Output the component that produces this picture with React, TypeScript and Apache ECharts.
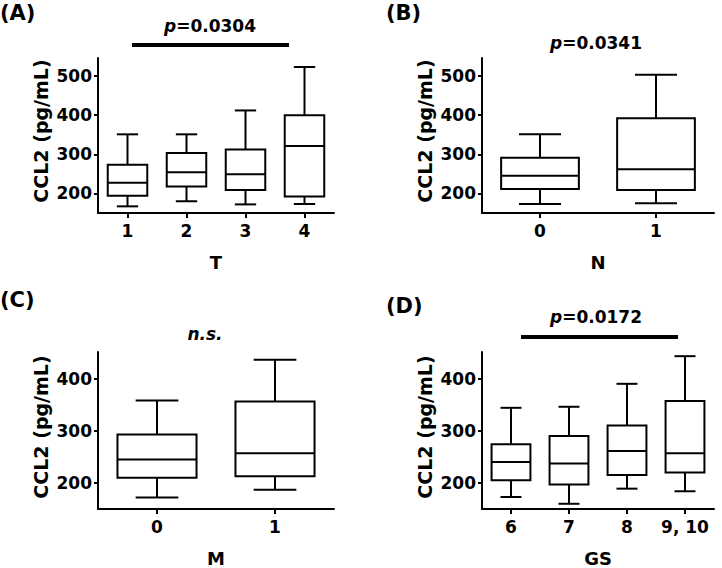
import React, { useEffect, useRef } from "react";
import * as echarts from "echarts";

const catsT = ["1", "2", "3", "4"];
const boxT = [
  [167, 194, 227, 273, 351],
  [180, 218, 254, 303, 351],
  [172, 209, 249, 312, 412],
  [173, 192, 321, 400, 523],
];
const catsN = ["0", "1"];
const boxN = [
  [173, 211, 245, 291, 351],
  [175, 209, 262, 392, 503],
];
const catsM = ["0", "1"];
const boxM = [
  [172, 210, 245, 293, 358],
  [187, 213, 257, 356, 436],
];
const catsGS = ["6", "7", "8", "9, 10"];
const boxGS = [
  [173, 205, 240, 274, 344],
  [160, 197, 237, 290, 346],
  [189, 215, 261, 310, 390],
  [184, 220, 257, 357, 443],
];
const ticksTop = [200, 300, 400, 500];
const ticksBottom = [200, 300, 400];

const FONT = "DejaVu Sans";

export default function App() {
  const ref = useRef<HTMLDivElement>(null);
  useEffect(() => {
    if (!ref.current) return;
    const chart = echarts.init(ref.current, null, { renderer: "svg" });

    const grids = [
      { left: 98, top: 58, width: 236, height: 155 },
      { left: 482, top: 58, width: 232, height: 155 },
      { left: 98, top: 352, width: 236, height: 158 },
      { left: 482, top: 352, width: 232, height: 158 },
    ];
    const cats = [catsT, catsN, catsM, catsGS];
    const names = ["T", "N", "M", "GS"];
    const boxes = [boxT, boxN, boxM, boxGS];
    const ranges = [
      [150, 546],
      [150, 546],
      [150, 451],
      [150, 451],
    ];
    const ticks = [ticksTop, ticksTop, ticksBottom, ticksBottom];

    const lineStyle = { color: "#000", width: 2 };

    const renderItem = (params: any, api: any) => {
      const x = api.value(0);
      const pLow = api.coord([x, api.value(1)]);
      const pQ1 = api.coord([x, api.value(2)]);
      const pMed = api.coord([x, api.value(3)]);
      const pQ3 = api.coord([x, api.value(4)]);
      const pHigh = api.coord([x, api.value(5)]);
      const bw = api.size([1, 0])[0] * 0.67;
      const cw = bw * 0.54;
      const cx = pLow[0];
      const st = { stroke: "#000", lineWidth: 2, fill: "none" };
      return {
        type: "group",
        children: [
          { type: "line", shape: { x1: cx, y1: pQ3[1], x2: cx, y2: pHigh[1] }, style: st },
          { type: "line", shape: { x1: cx - cw / 2, y1: pHigh[1], x2: cx + cw / 2, y2: pHigh[1] }, style: st },
          { type: "line", shape: { x1: cx, y1: pQ1[1], x2: cx, y2: pLow[1] }, style: st },
          { type: "line", shape: { x1: cx - cw / 2, y1: pLow[1], x2: cx + cw / 2, y2: pLow[1] }, style: st },
          {
            type: "rect",
            shape: { x: cx - bw / 2, y: pQ3[1], width: bw, height: pQ1[1] - pQ3[1] },
            style: { stroke: "#000", lineWidth: 2, fill: "#fff" },
          },
          { type: "line", shape: { x1: cx - bw / 2, y1: pMed[1], x2: cx + bw / 2, y2: pMed[1] }, style: st },
        ],
      };
    };

    const pText = (val: string, x: number, y: number) => ({
      type: "text",
      x,
      y,
      style: {
        text: "{i|p}=" + val,
        rich: { i: { fontStyle: "italic", fontWeight: "bold", fontFamily: FONT, fontSize: 17, fill: "#000" } },
        fontFamily: FONT,
        fontWeight: "bold",
        fontSize: 17,
        fill: "#000",
        align: "center",
        verticalAlign: "middle",
      },
    });
    const label = (t: string, x: number, y: number) => ({
      type: "text",
      x,
      y,
      style: {
        text: t,
        fontFamily: FONT,
        fontWeight: "bold",
        fontSize: 21,
        fill: "#000",
        align: "left",
        verticalAlign: "middle",
      },
    });
    const yName = (x: number, y: number) => ({
      type: "text",
      x,
      y,
      rotation: Math.PI / 2,
      style: {
        text: "CCL2 (pg/mL)",
        fontFamily: FONT,
        fontWeight: "bold",
        fontSize: 19,
        fill: "#000",
        align: "center",
        verticalAlign: "middle",
      },
    });

    chart.setOption({
      animation: false,
      backgroundColor: "#fff",
      grid: grids,
      xAxis: grids.map((_, i) => ({
        type: "category",
        gridIndex: i,
        data: cats[i],
        boundaryGap: true,
        name: names[i],
        nameLocation: "middle",
        nameGap: 40,
        nameTextStyle: { fontFamily: FONT, fontWeight: "bold", fontSize: 18, color: "#000" },
        axisLine: { lineStyle },
        axisTick: { show: true, alignWithLabel: true, length: 5, lineStyle, interval: 0 },
        axisLabel: { fontFamily: FONT, fontWeight: "bold", fontSize: 17, color: "#000", margin: 9, interval: 0 },
        splitLine: { show: false },
      })),
      yAxis: grids.map((_, i) => ({
        type: "value",
        gridIndex: i,
        min: ranges[i][0],
        max: ranges[i][1],
        axisLine: { show: true, lineStyle },
        axisTick: { show: true, length: 4, lineStyle, customValues: ticks[i] },
        axisLabel: {
          fontFamily: FONT,
          fontWeight: "bold",
          fontSize: 17,
          color: "#000",
          margin: 6,
          customValues: ticks[i],
        },
        splitLine: { show: false },
      })),
      series: boxes.map((b, i) => ({
        type: "custom",
        xAxisIndex: i,
        yAxisIndex: i,
        renderItem,
        encode: { x: 0, y: [1, 2, 3, 4, 5] },
        data: b.map((v, j) => [j, ...v]),
      })),
      graphic: [
        label("(A)", 0, 13),
        label("(B)", 386, 13),
        label("(C)", 0, 300),
        label("(D)", 386, 306),
        yName(41, 131),
        yName(425, 131),
        yName(41, 427),
        yName(425, 427),
        pText("0.0304", 210, 26),
        { type: "line", shape: { x1: 132, y1: 45, x2: 289, y2: 45 }, style: { stroke: "#000", lineWidth: 4 } },
        pText("0.0341", 596, 43),
        {
          type: "text",
          x: 205,
          y: 334,
          style: {
            text: "n.s.",
            fontFamily: FONT,
            fontWeight: "bold",
            fontStyle: "italic",
            fontSize: 17,
            fill: "#000",
            align: "center",
            verticalAlign: "middle",
          },
        },
        pText("0.0172", 596, 317),
        { type: "line", shape: { x1: 521, y1: 337, x2: 678, y2: 337 }, style: { stroke: "#000", lineWidth: 4 } },
      ],
    });
    return () => chart.dispose();
  }, []);
  return (
    <div
      ref={ref}
      style={{ position: "absolute", left: 0, top: 0, width: 722, height: 568, background: "#fff" }}
    />
  );
}
